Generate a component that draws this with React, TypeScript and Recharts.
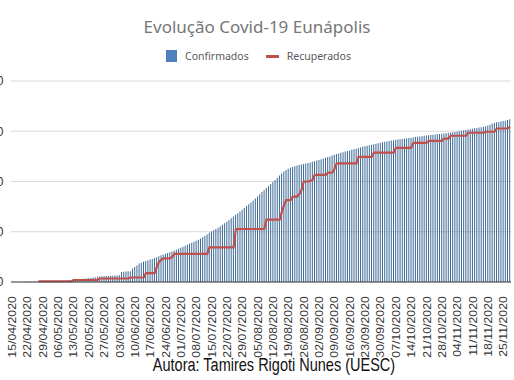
import { ComposedChart, Bar, Line, XAxis, YAxis, CartesianGrid } from "recharts";

// daily dates 15/04/2020 .. 28/11/2020
const months = [
  { m: "04", from: 15, to: 30 },
  { m: "05", from: 1, to: 31 },
  { m: "06", from: 1, to: 30 },
  { m: "07", from: 1, to: 31 },
  { m: "08", from: 1, to: 31 },
  { m: "09", from: 1, to: 30 },
  { m: "10", from: 1, to: 31 },
  { m: "11", from: 1, to: 28 },
];

const dates: string[] = [];
months.forEach(({ m, from, to }) => {
  for (let d = from; d <= to; d++) dates.push(`${String(d).padStart(2, "0")}/${m}/2020`);
});

const confirmados = [
  1, 1, 1, 2, 2, 2, 3, 3, 3, 4, 5, 5,
  6, 7, 8, 9, 10, 11, 12, 14,
  16, 18, 20, 22, 25, 28, 32, 36, 40, 45,
  55, 58, 62, 66, 70, 75, 80, 88, 95, 102,
  110, 113, 116, 118, 120, 122, 125, 127, 130, 132,
  200, 204, 208, 212, 216, 270, 300, 330, 370, 385,
  410, 420, 435, 450, 460, 480, 495, 510, 530, 545,
  560, 575, 590, 605, 620, 640, 660, 680, 700, 720,
  740, 760, 780, 800, 820, 840, 865, 890, 915, 945,
  980, 1005, 1030, 1055, 1080, 1110, 1140, 1170, 1200, 1235,
  1270, 1305, 1340, 1370, 1405, 1440, 1475, 1510, 1545, 1580,
  1620, 1660, 1700, 1745, 1790, 1830, 1870, 1910, 1950, 1990,
  2030, 2075, 2120, 2160, 2200, 2230, 2255, 2275, 2290, 2305,
  2320, 2330, 2340, 2350, 2360, 2370, 2380, 2395, 2405, 2418,
  2430, 2445, 2460, 2475, 2488, 2500, 2515, 2530, 2545, 2557,
  2570, 2582, 2595, 2607, 2618, 2630, 2642, 2654, 2666, 2678,
  2690, 2700, 2710, 2720, 2730, 2740, 2750, 2760, 2770, 2780,
  2790, 2798, 2806, 2814, 2822, 2830, 2836, 2842, 2848, 2854,
  2860, 2866, 2872, 2878, 2884, 2890, 2896, 2902, 2908, 2914,
  2920, 2925, 2930, 2935, 2940, 2945, 2950, 2955, 2960, 2965,
  2970, 2978, 2986, 2994, 3002, 3010, 3018, 3026, 3034, 3042,
  3050, 3058, 3066, 3074, 3082, 3090, 3100, 3115, 3130, 3150,
  3170, 3178, 3186, 3194, 3202, 3210, 3225, 3240,
];

const N = null;
const recuperados = [
  N, N, N, N, N, N, N, N, N, N, N, N,
  15, 15, 15, 15, 15, 15, 15, 15,
  15, 15, 15, 15, 15, 15, 15, 15, 40, 40,
  40, 40, 40, 40, 40, 40, 40, 40, 40, 40,
  70, 70, 70, 70, 70, 70, 70, 70, 70, 70,
  70, 70, 70, 70, 90, 90, 90, 90, 90, 90,
  90, 175, 175, 175, 175, 175, 300, 400, 440, 470,
  470, 470, 470, 500, 560, 560, 560, 560, 560, 560,
  560, 560, 560, 560, 560, 560, 560, 560, 560, 560,
  690, 690, 690, 690, 690, 690, 690, 690, 690, 690,
  690, 690, 1050, 1055, 1055, 1055, 1055, 1055, 1055, 1055,
  1055, 1055, 1055, 1055, 1055, 1055, 1240, 1240, 1240, 1240,
  1240, 1240, 1240, 1400, 1530, 1630, 1630, 1630, 1700, 1700,
  1700, 1750, 1830, 2000, 2000, 2000, 2010, 2030, 2130, 2130,
  2130, 2130, 2130, 2130, 2175, 2175, 2175, 2250, 2360, 2360,
  2360, 2360, 2360, 2360, 2360, 2360, 2360, 2360, 2490, 2490,
  2490, 2490, 2490, 2490, 2490, 2575, 2575, 2575, 2575, 2575,
  2575, 2575, 2575, 2575, 2575, 2670, 2670, 2670, 2670, 2670,
  2670, 2670, 2670, 2770, 2770, 2770, 2770, 2770, 2770, 2770,
  2810, 2810, 2810, 2810, 2810, 2810, 2810, 2855, 2855, 2855,
  2910, 2910, 2910, 2910, 2910, 2910, 2910, 2910, 2970, 2970,
  2970, 2970, 2970, 2970, 2970, 2970, 2990, 2990, 2990, 2990,
  2990, 3055, 3055, 3055, 3055, 3055, 3055, 3090,
];

const yTicks = [0, 1000, 2000, 3000, 4000];

const data = dates.map((date, i) => ({
  date,
  confirmados: confirmados[i],
  recuperados: recuperados[i],
}));

const DateTick = ({ x, y, payload }: any) => (
  <g transform={`translate(${x},${y})`}>
    <text
      transform="rotate(-90) scale(1.12,1)"
      x={-5.5}
      y={0}
      dy="0.36em"
      textAnchor="end"
      fontSize={11}
      fontFamily="Liberation Sans, Arial, sans-serif"
      fill="#333"
    >
      {payload.value}
    </text>
  </g>
);

const ValueTick = ({ x, y, payload }: any) => (
  <text
    x={x + 0.5}
    y={y}
    dy="0.36em"
    textAnchor="end"
    fontSize={12}
    fontFamily="Liberation Sans, Arial, sans-serif"
    fill="#333"
  >
    {payload.value}
  </text>
);

export default function App() {
  return (
    <div style={{ position: "absolute", left: 0, top: 0, width: 514, height: 380, background: "#fff", overflow: "hidden" }}>
      <div
        style={{
          position: "absolute",
          top: 15,
          left: 0,
          width: 514,
          textAlign: "center",
          fontFamily: "Noto Sans, sans-serif",
          fontSize: 17,
          color: "#767676",
        }}
      >
        Evolução Covid-19 Eunápolis
      </div>
      <div
        style={{
          position: "absolute",
          top: 49,
          left: 166,
          display: "flex",
          alignItems: "center",
          fontFamily: "Noto Sans, sans-serif",
          fontSize: 10.5,
          color: "#595959",
        }}
      >
        <span style={{ width: 11, height: 12, background: "#4f7fbc", display: "inline-block" }} />
        <span style={{ marginLeft: 8 }}>Confirmados</span>
        <span style={{ width: 13, height: 3, background: "#c0504d", display: "inline-block", marginLeft: 17 }} />
        <span style={{ marginLeft: 8 }}>Recuperados</span>
      </div>
      <ComposedChart
        width={514}
        height={380}
        data={data}
        margin={{ top: 81, right: 3, left: 0, bottom: 28 }}
        barCategoryGap="18%"
      >
        <CartesianGrid vertical={false} stroke="#d9d9d9" />
        <XAxis
          dataKey="date"
          interval={6}
          height={70}
          tickLine={false}
          axisLine={{ stroke: "#404040" }}
          tick={<DateTick />}
        />
        <YAxis
          width={11}
          domain={[0, 4000]}
          ticks={yTicks}
          tickLine={false}
          axisLine={false}
          tick={<ValueTick />}
        />
        <Bar dataKey="confirmados" fill="#3a6894" isAnimationActive={false} />
        <Line
          type="linear"
          dataKey="recuperados"
          stroke="#c0504d"
          strokeWidth={2.2}
          dot={false}
          isAnimationActive={false}
        />
      </ComposedChart>
      <div
        style={{
          position: "absolute",
          top: 355,
          left: 0,
          width: 548,
          textAlign: "center",
          fontFamily: "Liberation Sans, Arial, sans-serif",
          fontSize: 14.5,
          color: "#111",
          transform: "scaleY(1.25)",
          transformOrigin: "center top",
        }}
      >
        Autora: Tamires Rigoti Nunes (UESC)
      </div>
    </div>
  );
}
